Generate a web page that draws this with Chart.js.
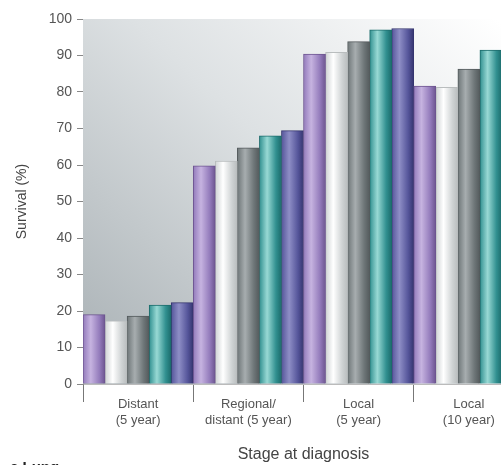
<!DOCTYPE html>
<html>
<head>
<meta charset="utf-8">
<script src="https://cdn.jsdelivr.net/npm/chart.js@4/dist/chart.umd.min.js"></script>
<style>
  html, body { margin: 0; padding: 0; background: #fff; overflow: hidden; }
  #wrap { width: 540px; height: 465px; position: relative; }
</style>
</head>
<body>
<div id="wrap"><canvas id="myChart"></canvas></div>
<script>
// stage groups on the x axis
const stages = [['Distant', '(5 year)'], ['Regional/', 'distant (5 year)'], ['Local', '(5 year)'], ['Local', '(10 year)']];
// survival (%) per series (last bar of the 10 year group is cut off)
const serie1 = [19.0, 59.8, 90.4, 81.6];
const serie2 = [17.3, 61.1, 90.9, 81.3];
const serie3 = [18.6, 64.7, 93.8, 86.3];
const serie4 = [21.6, 68.0, 97.0, 91.5];
const serie5 = [22.3, 69.4, 97.4, null];
const yTicks = [0, 10, 20, 30, 40, 50, 60, 70, 80, 90, 100];

// edge / highlight / dark for the cylinder look
const tonos = [
	['#937bbb', '#c6b3e0', '#6d5590'],
	['#cfd3d4', '#ffffff', '#b9bdbe'],
	['#6e7678', '#a7adaf', '#535a5c'],
	['#319090', '#98d9d4', '#1b6b6b'],
	['#55559a', '#8e8ec6', '#35356f']
];

function colorBarra(ctx) {
	var t = tonos[ctx.datasetIndex];
	var chart = ctx.chart;
	var xs = chart.scales && chart.scales.x;
	if (!chart.chartArea || !xs || ctx.type !== 'data') return t[0];
	var grupo = xs.width / stages.length;
	var ancho = grupo / 5;
	var izq = xs.getPixelForValue(ctx.dataIndex) - grupo / 2 + ctx.datasetIndex * ancho;
	var g = chart.ctx.createLinearGradient(izq, 0, izq + ancho, 0);
	g.addColorStop(0, t[0]);
	g.addColorStop(0.35, t[1]);
	g.addColorStop(0.75, t[0]);
	g.addColorStop(1, t[2]);
	return g;
}

var fondo = {
	id: 'fondo',
	beforeDatasetsDraw: function(chart) {
		var a = chart.chartArea, c = chart.ctx;
		var g = c.createLinearGradient(a.left, a.bottom, a.left + 370, a.top - 40);
		g.addColorStop(0, '#a7afb3');
		g.addColorStop(0.55, '#dde1e3');
		g.addColorStop(1, '#ffffff');
		c.save();
		c.fillStyle = g;
		c.fillRect(a.left, a.top, a.right - a.left, a.bottom - a.top);
		c.restore();
	},
	afterDraw: function(chart) {
		var c = chart.ctx;
		c.save();
		c.fillStyle = '#222';
		c.font = 'bold 15px "Liberation Sans", Arial, sans-serif';
		c.textBaseline = 'top';
		c.fillText('c Lung', 10, 460);
		c.restore();
	}
};

function crearDataset(nombre, datos, i) {
	return {
		label: nombre,
		data: datos,
		backgroundColor: colorBarra,
		borderColor: tonos[i][2],
		borderWidth: 1,
		borderSkipped: 'bottom',
		categoryPercentage: 1,
		barPercentage: 1
	};
}

Chart.defaults.font.family = '"Liberation Sans", Arial, sans-serif';
Chart.defaults.color = '#555';

var ctx = document.getElementById('myChart').getContext('2d');
var chart = new Chart(ctx, {
	type: 'bar',
	plugins: [fondo],
	data: {
		labels: stages,
		datasets: [
			crearDataset('Serie 1', serie1, 0),
			crearDataset('Serie 2', serie2, 1),
			crearDataset('Serie 3', serie3, 2),
			crearDataset('Serie 4', serie4, 3),
			crearDataset('Serie 5', serie5, 4)
		]
	},
	options: {
		responsive: true,
		maintainAspectRatio: false,
		animation: false,
		layout: { padding: { left: 5, right: 16, top: 19, bottom: 0 } },
		plugins: { legend: { display: false }, tooltip: { enabled: false } },
		scales: {
			x: {
				offset: true,
				grid: { offset: true, drawOnChartArea: false, tickLength: 18, color: '#777' },
				border: { display: true, color: '#bbb' },
				ticks: { font: { size: 13 }, padding: -5, maxRotation: 0, color: '#555' },
				title: { display: true, text: 'Stage at diagnosis', font: { size: 16 }, color: '#444', padding: { top: 12, bottom: 1 } },
				afterFit: function(s) { s.height = 81; }
			},
			y: {
				min: 0,
				max: 100,
				grid: { drawOnChartArea: false, tickLength: 6, color: '#888' },
				border: { display: true, color: '#888' },
				ticks: {
					stepSize: 5,
					padding: 5,
					font: { size: 14 },
					color: '#555',
					callback: function(v) { return yTicks.indexOf(v) >= 0 ? v : ''; }
				},
				title: { display: true, text: 'Survival (%)', font: { size: 14 }, color: '#444', padding: { top: 9, bottom: 0 } },
				afterFit: function(s) { s.width = 78; }
			}
		}
	}
});
</script>
</body>
</html>
